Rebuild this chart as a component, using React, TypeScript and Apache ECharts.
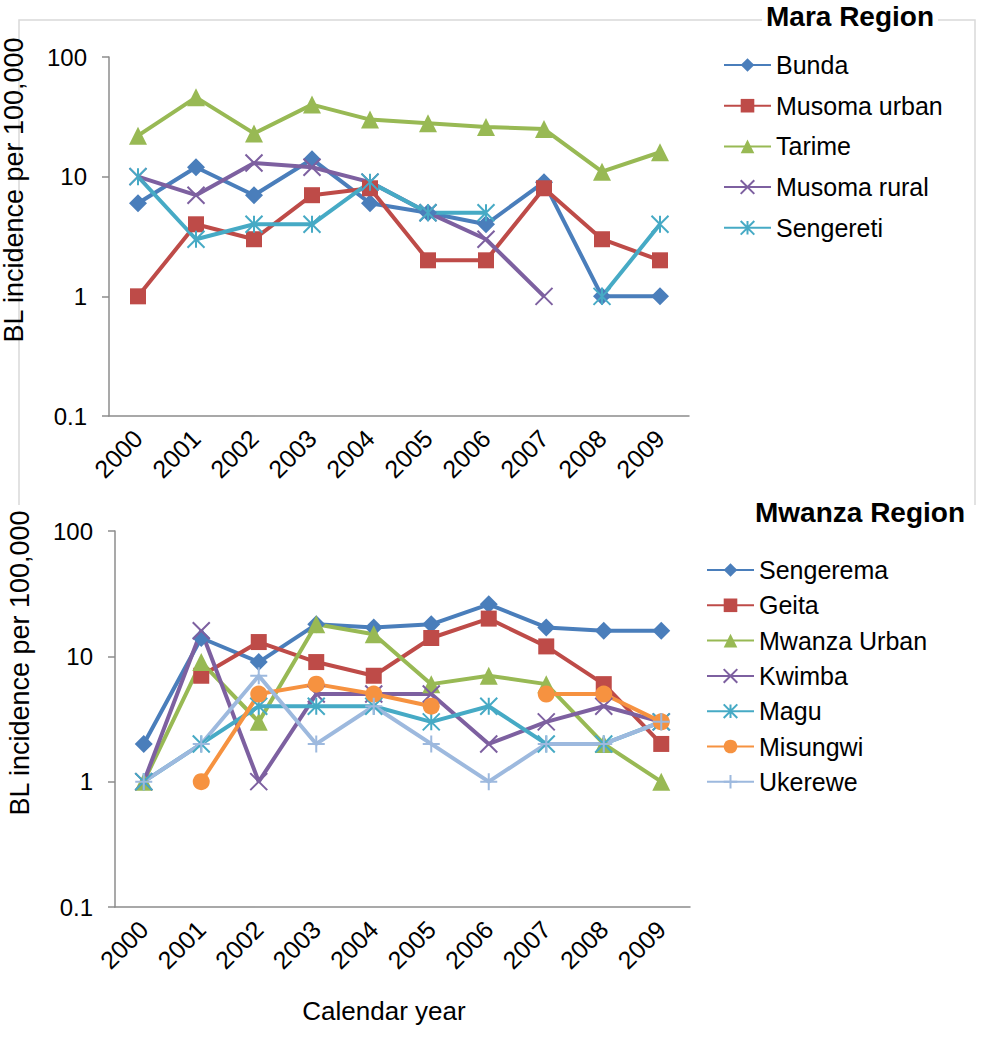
import React, { useEffect, useRef } from "react";
import * as echarts from "echarts";

const years = ["2000", "2001", "2002", "2003", "2004", "2005", "2006", "2007", "2008", "2009"];

// Mara Region
const bunda = [6, 12, 7, 14, 6, 5, 4, 9, 1, 1];
const musomaUrban = [1, 4, 3, 7, 8, 2, 2, 8, 3, 2];
const tarime = [22, 46, 23, 40, 30, 28, 26, 25, 11, 16];
const musomaRural = [10, 7, 13, 12, 9, 5, 3, 1, null, null];
const sengereti = [10, 3, 4, 4, 9, 5, 5, null, 1, 4];

// Mwanza Region
const sengerema = [2, 14, 9, 18, 17, 18, 26, 17, 16, 16];
const geita = [null, 7, 13, 9, 7, 14, 20, 12, 6, 2];
const mwanzaUrban = [1, 9, 3, 18, 15, 6, 7, 6, 2, 1];
const kwimba = [1, 16, 1, 5, 5, 5, 2, 3, 4, 3];
const magu = [1, 2, 4, 4, 4, 3, 4, 2, 2, 3];
const misungwi = [null, 1, 5, 6, 5, 4, null, 5, 5, 3];
const ukerewe = [1, 2, 7, 2, 4, 2, 1, 2, 2, 3];

const maraNames = ["Bunda", "Musoma urban", "Tarime", "Musoma rural", "Sengereti"];
const mwanzaNames = ["Sengerema", "Geita", "Mwanza Urban", "Kwimba", "Magu", "Misungwi", "Ukerewe"];

const FONT = '"Liberation Sans", Arial, sans-serif';
const BLUE = "#4A7EBB";
const RED = "#BE4B48";
const GREEN = "#98B954";
const PURPLE = "#7D60A0";
const CYAN = "#46AAC5";
const ORANGE = "#F69240";
const LIGHTBLUE = "#9DB9DE";

const SYM_X = "path://M0,0L10,10M10,0L0,10";
const SYM_AST = "path://M5,0L5,10M0,0L10,10M10,0L0,10";
const SYM_PLUS = "path://M5,0L5,10M0,5L10,5";

function mk(name: string, data: (number | null)[], color: string, symbol: string, idx: number) {
  const isPath = symbol.startsWith("path://");
  return {
    type: "line",
    name,
    data,
    xAxisIndex: idx,
    yAxisIndex: idx,
    symbol,
    symbolSize: isPath ? 17 : symbol === "circle" ? 17 : symbol === "rect" ? 16 : 18,
    showAllSymbol: true,
    connectNulls: false,
    lineStyle: { color, width: 4 },
    itemStyle: isPath ? { color, borderColor: color, borderWidth: 2 } : { color },
    emphasis: { disabled: true },
  };
}

function xAxis(idx: number) {
  return {
    type: "category",
    gridIndex: idx,
    data: years,
    boundaryGap: true,
    axisLine: { lineStyle: { color: "#8C8C8C", width: 1.5 } },
    axisTick: { length: 8, lineStyle: { color: "#8C8C8C", width: 1.5 } },
    axisLabel: { rotate: 45, fontSize: 25, color: "#000", margin: 18, fontFamily: FONT },
    splitLine: { show: false },
  };
}

function yAxis(idx: number) {
  return {
    type: "log",
    logBase: 10,
    gridIndex: idx,
    min: 0.1,
    max: 100,
    axisLine: { show: true, lineStyle: { color: "#8C8C8C", width: 1.5 } },
    axisTick: { show: true, length: 7, lineStyle: { color: "#8C8C8C", width: 1.5 } },
    axisLabel: {
      fontSize: 24,
      color: "#000",
      margin: 22,
      fontFamily: FONT,
      formatter: (v: number) => String(v),
    },
    splitLine: { show: false },
    minorTick: { show: false },
  };
}

export default function App() {
  const ref = useRef<HTMLDivElement>(null);
  useEffect(() => {
    if (!ref.current) return;
    const chart = echarts.init(ref.current, undefined, { renderer: "svg" });
    const option = {
      animation: false,
      backgroundColor: "#fff",
      textStyle: { fontFamily: FONT },
      grid: [
        { left: 109, right: 294, top: 57, height: 359 },
        { left: 115, right: 293, top: 531, height: 376 },
      ],
      xAxis: [xAxis(0), xAxis(1)],
      yAxis: [yAxis(0), yAxis(1)],
      legend: [
        {
          data: maraNames,
          orient: "vertical",
          left: 723,
          top: 51,
          itemWidth: 47,
          itemHeight: 17,
          itemGap: 12.7,
          padding: 0,
          textStyle: { fontSize: 25, lineHeight: 28, color: "#000", fontFamily: FONT },
          selectedMode: false,
        },
        {
          data: mwanzaNames,
          orient: "vertical",
          left: 706,
          top: 556,
          itemWidth: 47,
          itemHeight: 17,
          itemGap: 7.3,
          padding: 0,
          textStyle: { fontSize: 25, lineHeight: 28, color: "#000", fontFamily: FONT },
          selectedMode: false,
        },
      ],
      series: [
        mk("Bunda", bunda, BLUE, "diamond", 0),
        mk("Musoma urban", musomaUrban, RED, "rect", 0),
        mk("Tarime", tarime, GREEN, "triangle", 0),
        mk("Musoma rural", musomaRural, PURPLE, SYM_X, 0),
        mk("Sengereti", sengereti, CYAN, SYM_AST, 0),
        mk("Sengerema", sengerema, BLUE, "diamond", 1),
        mk("Geita", geita, RED, "rect", 1),
        mk("Mwanza Urban", mwanzaUrban, GREEN, "triangle", 1),
        mk("Kwimba", kwimba, PURPLE, SYM_X, 1),
        mk("Magu", magu, CYAN, SYM_AST, 1),
        mk("Misungwi", misungwi, ORANGE, "circle", 1),
        mk("Ukerewe", ukerewe, LIGHTBLUE, SYM_PLUS, 1),
      ],
      graphic: [
        {
          type: "polyline",
          z: 0,
          shape: { points: [[19, 505], [19, 20], [975, 20], [975, 505]] },
          style: { stroke: "#D9D9D9", lineWidth: 1.5, fill: null },
          silent: true,
        },
        {
          type: "text",
          z: 10,
          x: 850,
          y: 16,
          style: {
            text: "Mara Region",
            fontSize: 28,
            fontWeight: "bold",
            fontFamily: FONT,
            fill: "#000",
            textAlign: "center",
            textVerticalAlign: "middle",
            backgroundColor: "#fff",
            padding: [0, 4],
          },
        },
        {
          type: "text",
          z: 10,
          x: 860,
          y: 512,
          style: {
            text: "Mwanza Region",
            fontSize: 28,
            fontWeight: "bold",
            fontFamily: FONT,
            fill: "#000",
            textAlign: "center",
            textVerticalAlign: "middle",
            backgroundColor: "#fff",
            padding: [0, 2],
          },
        },
        {
          type: "text",
          x: 14,
          y: 190,
          rotation: Math.PI / 2,
          style: {
            text: "BL incidence per 100,000",
            fontSize: 27,
            fontFamily: FONT,
            fill: "#000",
            textAlign: "center",
            textVerticalAlign: "middle",
          },
        },
        {
          type: "text",
          x: 20,
          y: 663,
          rotation: Math.PI / 2,
          style: {
            text: "BL incidence per 100,000",
            fontSize: 27,
            fontFamily: FONT,
            fill: "#000",
            textAlign: "center",
            textVerticalAlign: "middle",
          },
        },
        {
          type: "text",
          x: 384,
          y: 1011,
          style: {
            text: "Calendar year",
            fontSize: 26,
            fontFamily: FONT,
            fill: "#000",
            textAlign: "center",
            textVerticalAlign: "middle",
          },
        },
      ],
    };
    chart.setOption(option as any);
    return () => chart.dispose();
  }, []);
  return (
    <div
      ref={ref}
      style={{ position: "absolute", left: 0, top: 0, width: 983, height: 1050 }}
    />
  );
}
